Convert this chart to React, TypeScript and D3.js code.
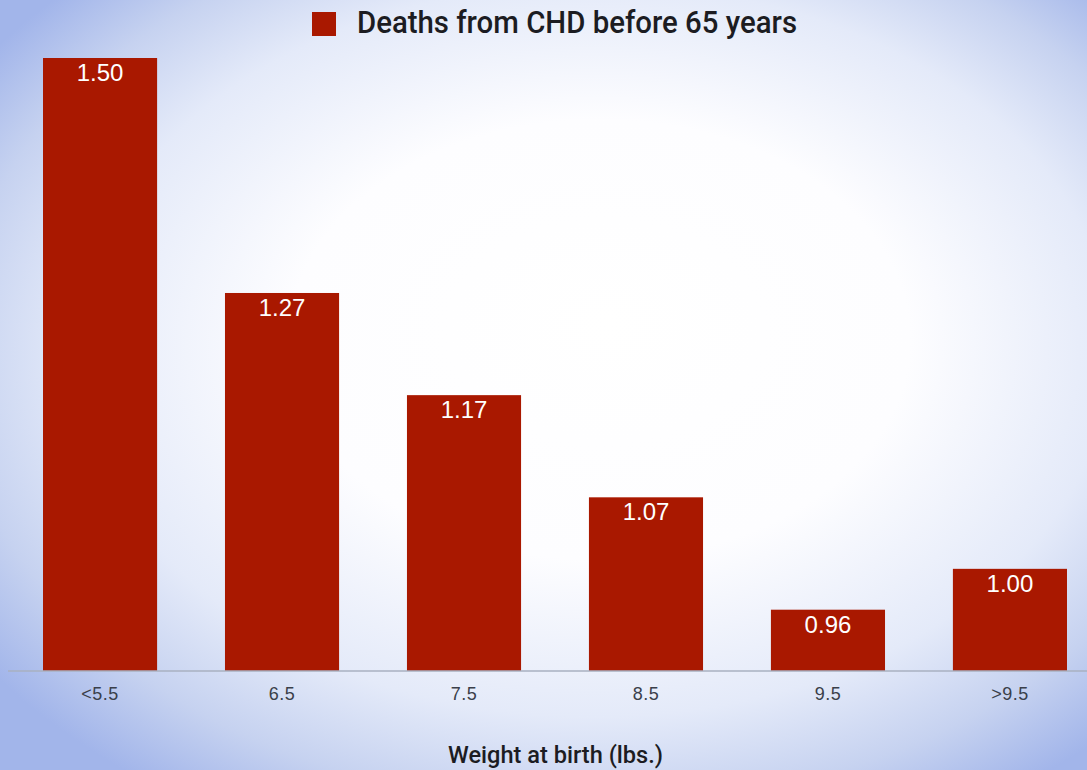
import React from "react";
import * as d3 from "d3";

const categories = ["<5.5", "6.5", "7.5", "8.5", "9.5", ">9.5"];
const values = [1.5, 1.27, 1.17, 1.07, 0.96, 1.0];
const valueLabels = ["1.50", "1.27", "1.17", "1.07", "0.96", "1.00"];
const seriesName = "Deaths from CHD before 65 years";
const xTitle = "Weight at birth (lbs.)";

const W = 1087;
const H = 770;
const BAR = "#a91800";

export default function App() {
  const x = d3.scaleBand<string>().domain(categories).range([43, 1067]).paddingInner(0.373).paddingOuter(0);
  const y = d3.scaleLinear().domain([0.9, 1.5]).range([671, 58]);
  const base = y(0.9);

  return (
    <svg width={W} height={H} style={{ position: "absolute", left: 0, top: 0 }}>
      <defs>
        <radialGradient id="bg" cx="0.54" cy="0.47" r="0.68" fx="0.56" fy="0.42">
          <stop offset="0" stopColor="#ffffff" />
          <stop offset="0.42" stopColor="#fdfdff" />
          <stop offset="0.7" stopColor="#e4eaf9" />
          <stop offset="0.86" stopColor="#c6d2f0" />
          <stop offset="1" stopColor="#a2b5ea" />
        </radialGradient>
      </defs>
      <rect x={0} y={0} width={W} height={H} fill="url(#bg)" />

      {/* legend */}
      <rect x={312} y={12} width={24} height={24} fill={BAR} />
      <text x={357} y={33} fontFamily="Roboto, 'Liberation Sans', sans-serif" fontWeight={500} fontSize={31}
        fill="#1c1c22" textLength={440} lengthAdjust="spacingAndGlyphs">{seriesName}</text>

      {/* bars */}
      {categories.map((c, i) => (
        <g key={c}>
          <rect x={x(c)} y={y(values[i])} width={x.bandwidth()} height={base - y(values[i])} fill={BAR} />
          <text x={(x(c) as number) + x.bandwidth() / 2} y={y(values[i]) + 23} textAnchor="middle"
            fontFamily="'Liberation Sans', Arial, sans-serif" fontSize={24} fill="#ffffff">{valueLabels[i]}</text>
        </g>
      ))}

      {/* axis */}
      <line x1={8} x2={W} y1={base} y2={base} stroke="#a9b0c0" strokeWidth={1.5} />
      {categories.map((c) => (
        <text key={c} x={(x(c) as number) + x.bandwidth() / 2} y={700} textAnchor="middle"
          fontFamily="'Liberation Sans', Arial, sans-serif" fontSize={18} letterSpacing={0.5} fill="#3a3f4a">{c}</text>
      ))}

      <text x={448} y={763} fontFamily="Roboto, 'Liberation Sans', sans-serif" fontWeight={500} fontSize={23}
        fill="#1c1c22" textLength={215} lengthAdjust="spacingAndGlyphs">{xTitle}</text>
    </svg>
  );
}
